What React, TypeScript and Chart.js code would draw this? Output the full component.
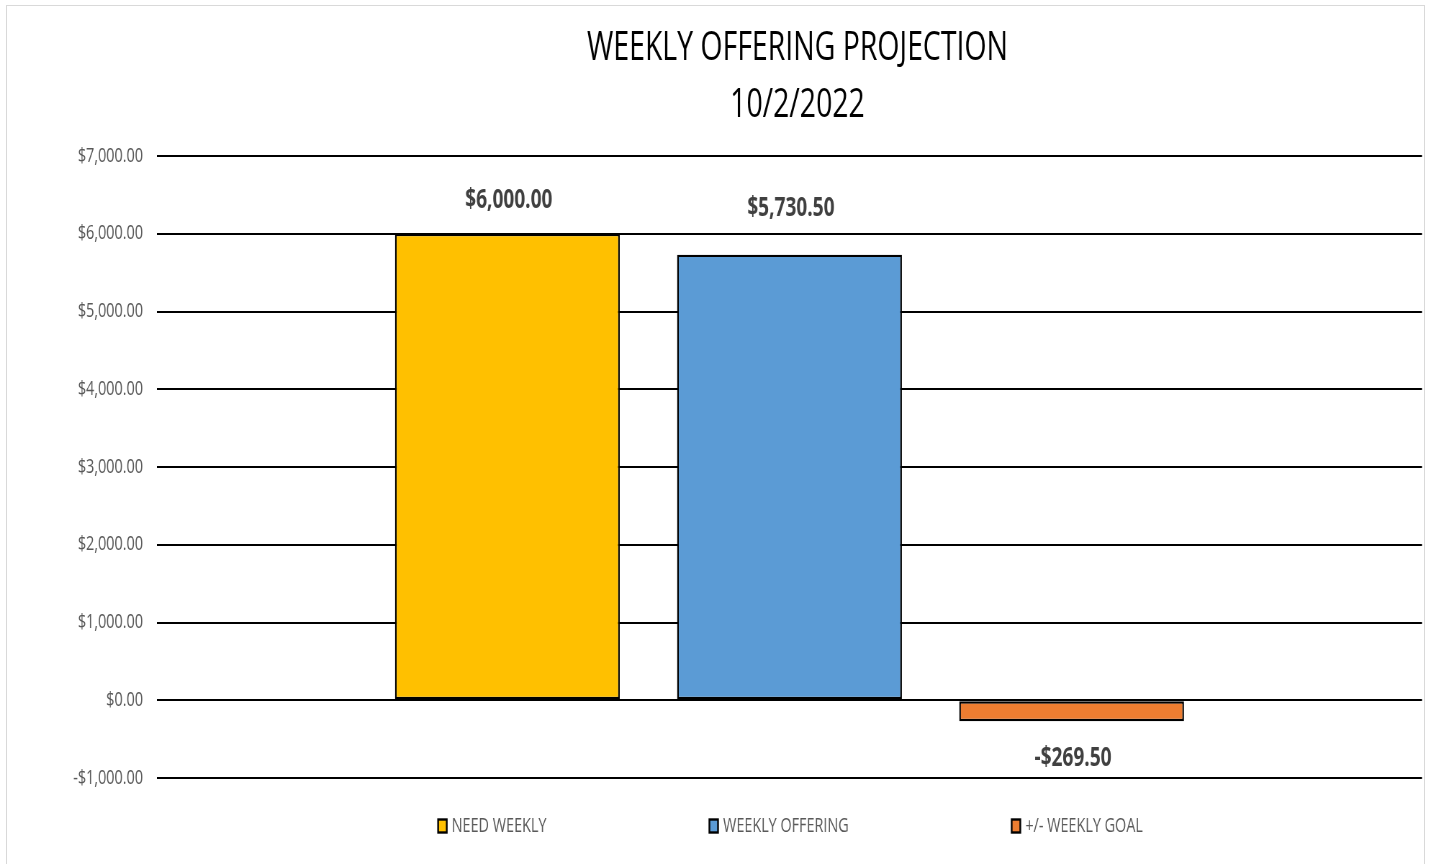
import React, { useEffect, useRef } from "react";
import { Chart, registerables } from "chart.js";

Chart.register(...registerables);

// ---- data ----
const TITLE_LINES = ["WEEKLY OFFERING PROJECTION", "10/2/2022"];
const CATEGORIES = [""];
const SERIES_NAMES = ["NEED WEEKLY", "WEEKLY OFFERING", "+/- WEEKLY GOAL"];
const NEED_WEEKLY = [6000];
const WEEKLY_OFFERING = [5730.5];
const WEEKLY_GOAL_DIFF = [-269.5];
const SERIES_COLORS = ["#FFC000", "#5B9BD5", "#ED7D31"];
const Y_MIN = -1000;
const Y_MAX = 7000;
const Y_STEP = 1000;

// ---- layout / style ----
const VW = 1431;
const VH = 864;
const S = 0.72; // horizontal compression of the whole drawing
const LW = Math.round(VW / S);
const FONT = "'Open Sans', 'DejaVu Sans', sans-serif";
const LABEL_OFFSETS = [33, 46, 37];

const fmtMoney = (v: number) =>
  (v < 0 ? "-" : "") +
  "$" +
  Math.abs(v).toLocaleString("en-US", { minimumFractionDigits: 2, maximumFractionDigits: 2 });

const overlayPlugin = {
  id: "overlay",
  afterDatasetsDraw(chart: any) {
    const ctx = chart.ctx;
    const area = chart.chartArea;
    ctx.save();
    // title
    ctx.fillStyle = "#000000";
    ctx.font = `39.5px ${FONT}`;
    ctx.textAlign = "center";
    ctx.textBaseline = "middle";
    const cx = (area.left + area.right) / 2;
    const tx = cx + 8 / S;
    ctx.fillText(TITLE_LINES[0], tx, 49);
    ctx.fillText(TITLE_LINES[1], tx, 106);

    // data labels
    ctx.font = `bold 26.5px ${FONT}`;
    ctx.fillStyle = "#404040";
    chart.data.datasets.forEach((ds: any, di: number) => {
      const meta = chart.getDatasetMeta(di);
      meta.data.forEach((el: any, i: number) => {
        const v = ds.data[i];
        const y = v >= 0 ? el.y - LABEL_OFFSETS[di] : el.y + LABEL_OFFSETS[di];
        ctx.fillText(fmtMoney(v), el.x + 2, y);
      });
    });

    // legend
    ctx.font = `20px ${FONT}`;
    const box = 12;
    const gapBoxText = 5 / S;
    const itemGap = 163 / S;
    const widths = chart.data.datasets.map(
      (ds: any) => box + gapBoxText + ctx.measureText(ds.label).width
    );
    const total = widths.reduce((a: number, b: number) => a + b, 0) + itemGap * (widths.length - 1);
    let x = cx - total / 2 + 1 / S;
    const ly = 826;
    chart.data.datasets.forEach((ds: any, di: number) => {
      ctx.fillStyle = ds.backgroundColor;
      ctx.fillRect(x, ly - 6.5, box, 13);
      ctx.strokeStyle = "#000000";
      ctx.lineWidth = 2.4;
      ctx.strokeRect(x, ly - 6.5, box, 13);
      ctx.fillStyle = "#595959";
      ctx.textAlign = "left";
      ctx.fillText(ds.label, x + box + gapBoxText, ly);
      x += widths[di] + itemGap;
    });
    ctx.restore();
  },
};

export default function App() {
  const canvasRef = useRef<HTMLCanvasElement | null>(null);

  useEffect(() => {
    const canvas = canvasRef.current;
    if (!canvas) return;
    const seriesValues = [NEED_WEEKLY, WEEKLY_OFFERING, WEEKLY_GOAL_DIFF];
    const chart = new Chart(canvas, {
      type: "bar",
      data: {
        labels: CATEGORIES,
        datasets: SERIES_NAMES.map((name, i) => ({
          label: name,
          data: seriesValues[i],
          backgroundColor: SERIES_COLORS[i],
          borderColor: "#000000",
          borderWidth: 2.4,
          borderSkipped: false,
          categoryPercentage: 0.669,
          barPercentage: 0.797,
        })),
      },
      options: {
        responsive: false,
        maintainAspectRatio: false,
        devicePixelRatio: 1,
        animation: false,
        layout: {
          padding: { left: 0, right: (VW - 1422) / S, top: 156, bottom: VH - 778 },
        },
        plugins: {
          legend: { display: false },
          title: { display: false },
          tooltip: { enabled: false },
        },
        scales: {
          x: { display: false },
          y: {
            min: Y_MIN,
            max: Y_MAX,
            ticks: {
              stepSize: Y_STEP,
              color: "#595959",
              font: { family: FONT, size: 20 },
              padding: 14 / S,
              callback: (v: any) => fmtMoney(Number(v)),
            },
            grid: { color: "#000000", lineWidth: 2, drawTicks: false },
            border: { display: false },
            afterFit: (scale: any) => {
              scale.width = 157 / S;
            },
          },
        },
      },
      plugins: [overlayPlugin],
    });
    return () => chart.destroy();
  }, []);

  return (
    <div
      style={{
        position: "fixed",
        left: 0,
        top: 0,
        width: VW,
        height: VH,
        overflow: "hidden",
        background: "#ffffff",
      }}
    >
      <div
        style={{
          position: "absolute",
          left: 6,
          top: 5,
          width: 1417,
          height: 900,
          border: "1px solid #d9d9d9",
        }}
      />
      <canvas
        ref={canvasRef}
        width={LW}
        height={VH}
        style={{ position: "absolute", left: 0, top: 0, width: VW, height: VH }}
      />
    </div>
  );
}
